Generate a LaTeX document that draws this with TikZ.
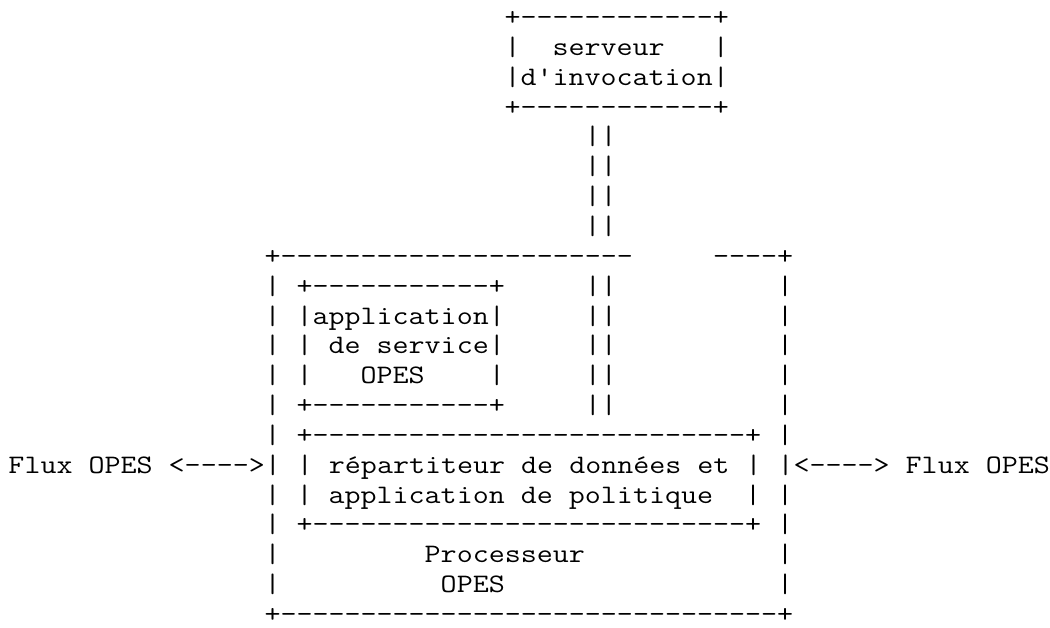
\documentclass[tikz,border=0pt]{standalone}
\usepackage{fontspec}
\newcommand\Ln[4]{\node[txt] (#1) at ({8.5+(#2-1)*16},{25.5+(#3-1)*29.85}) {\scalebox{1.1665}[1]{#4}};}
\begin{document}
\begin{tikzpicture}[x=1pt,y=-1pt,
  txt/.style={anchor=base west,inner sep=0pt,outer sep=0pt,
    font=\ttfamily\fontsize{26.67}{30}\selectfont}]
\useasboundingbox (0,0) rectangle (1050,627);
\Ln{l1}{32}{1}{+------------+}
\Ln{l2}{32}{2}{|~~serveur~~~|}
\Ln{l3}{32}{3}{|d'invocation|}
\Ln{l4}{32}{4}{+------------+}
\Ln{l5}{37}{5}{||}
\Ln{l6}{37}{6}{||}
\Ln{l7}{37}{7}{||}
\Ln{l8}{37}{8}{||}
\Ln{l9}{17}{9}{+----------------------~~~~~----+}
\Ln{l10}{17}{10}{|~+-----------+~~~~~||~~~~~~~~~~|}
\Ln{l11}{17}{11}{|~|application|~~~~~||~~~~~~~~~~|}
\Ln{l12}{17}{12}{|~|~de~service|~~~~~||~~~~~~~~~~|}
\Ln{l13}{17}{13}{|~|~~~OPES~~~~|~~~~~||~~~~~~~~~~|}
\Ln{l14}{17}{14}{|~+-----------+~~~~~||~~~~~~~~~~|}
\Ln{l15}{17}{15}{|~+---------------------------+~|}
\Ln{l16}{1}{16}{Flux~OPES~<---->|~|~répartiteur~de~données~et~|~|<---->~Flux~OPES}
\Ln{l17}{17}{17}{|~|~application~de~politique~~|~|}
\Ln{l18}{17}{18}{|~+---------------------------+~|}
\Ln{l19}{17}{19}{|~~~~~~~~~Processeur~~~~~~~~~~~~|}
\Ln{l20}{17}{20}{|~~~~~~~~~~OPES~~~~~~~~~~~~~~~~~|}
\Ln{l21}{17}{21}{+-------------------------------+}
\end{tikzpicture}
\end{document}
